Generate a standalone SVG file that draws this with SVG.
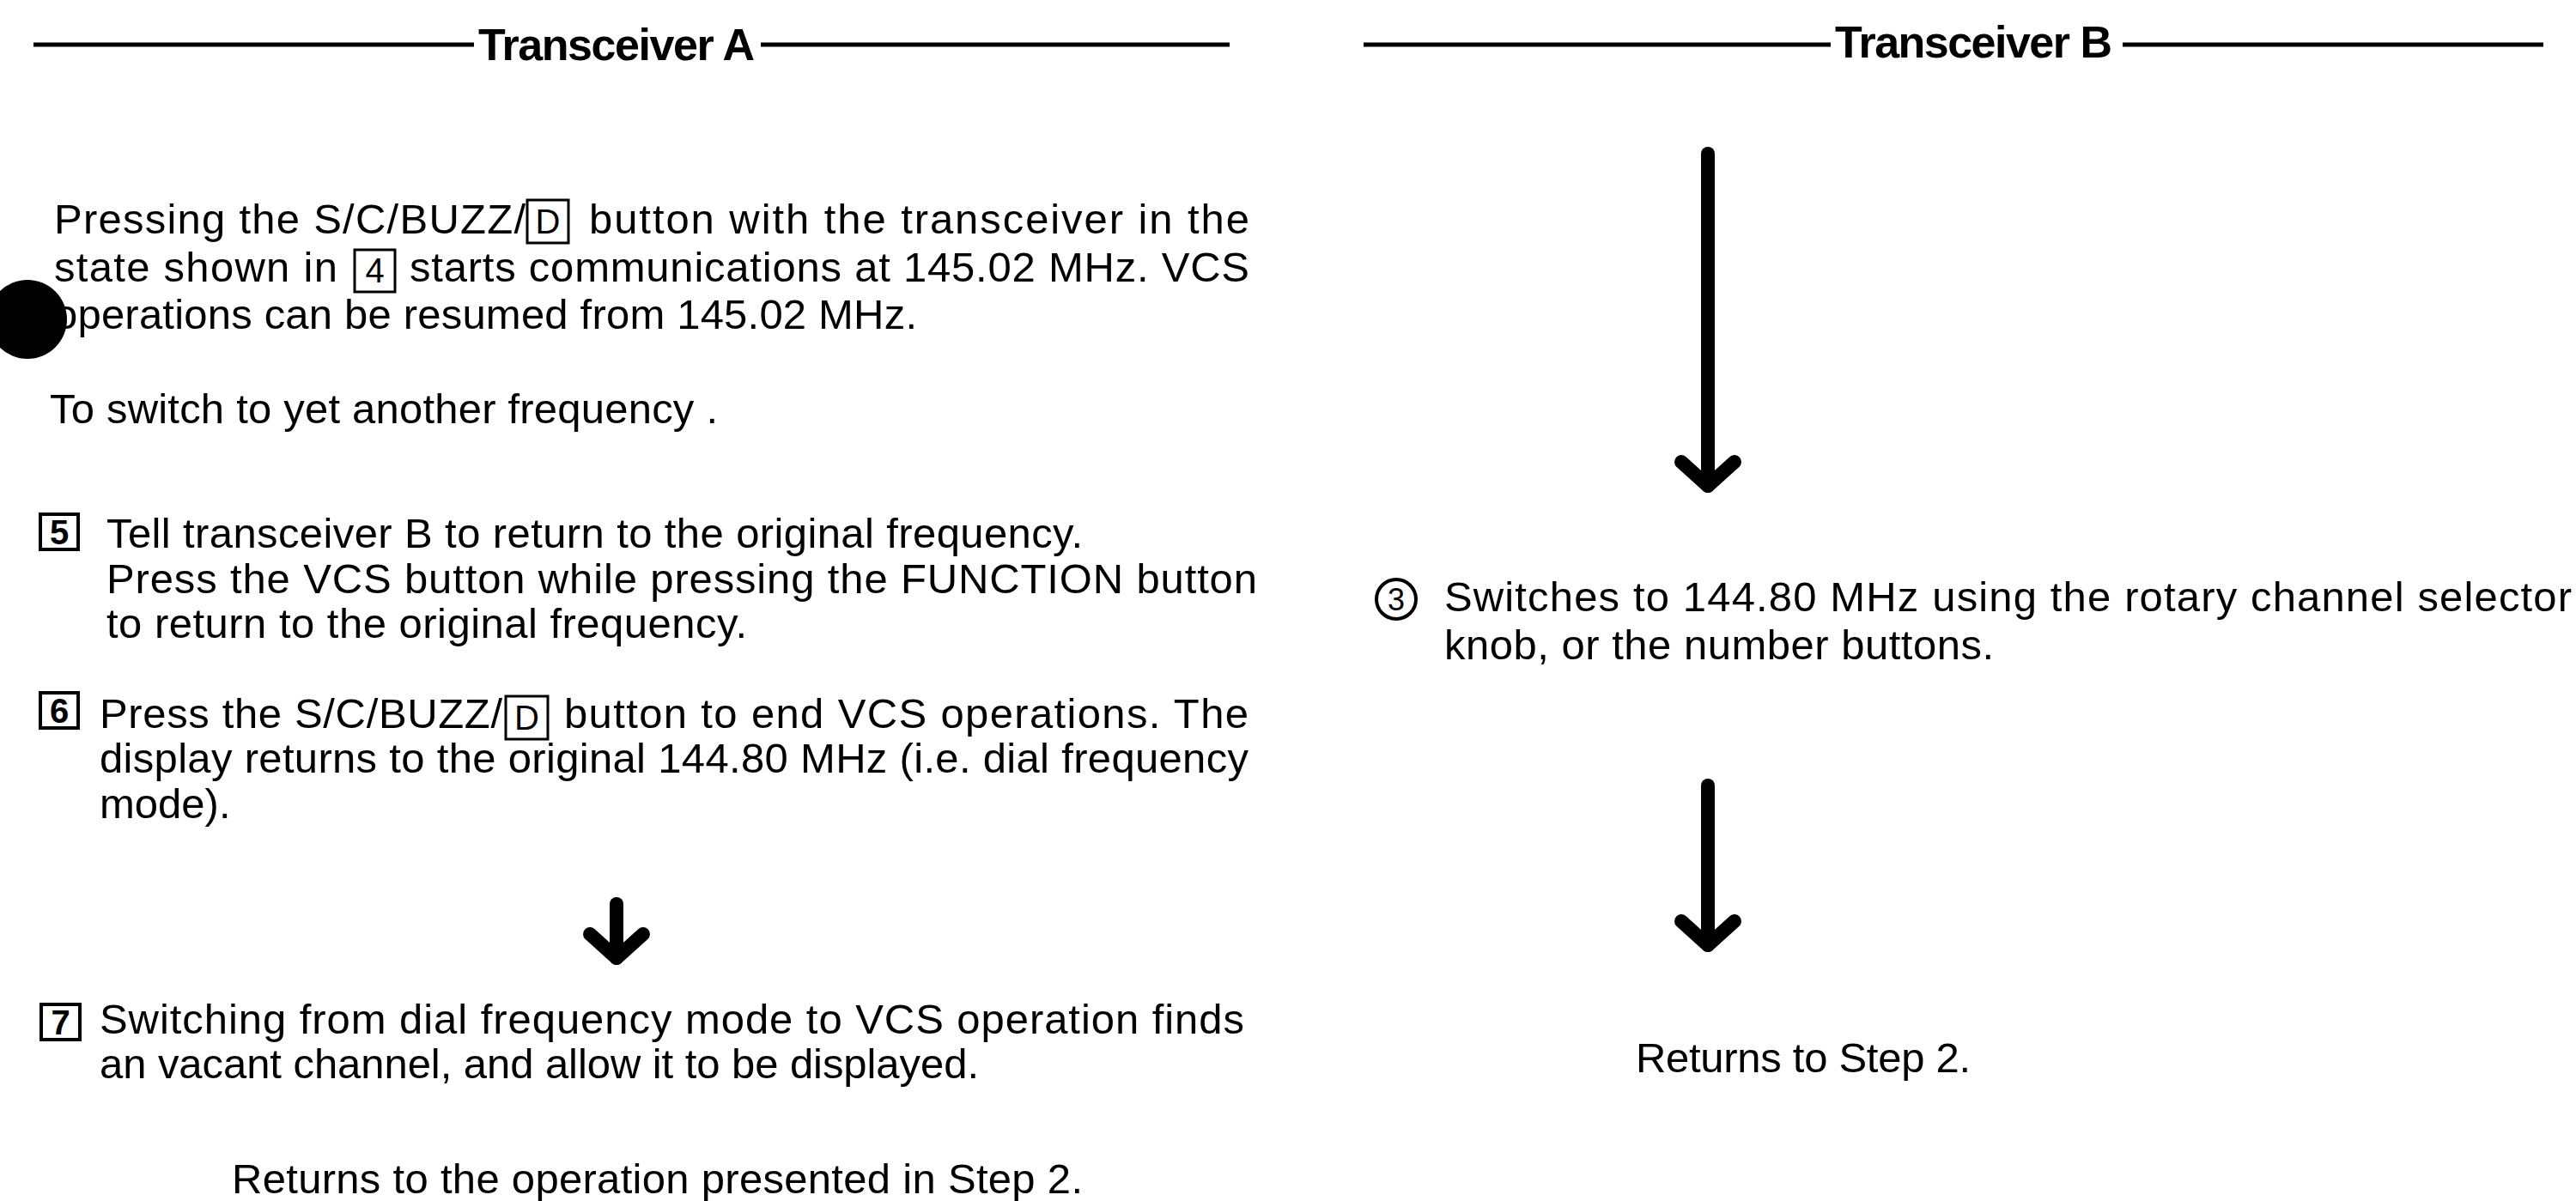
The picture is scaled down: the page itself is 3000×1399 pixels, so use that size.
<svg xmlns="http://www.w3.org/2000/svg" xmlns:xlink="http://www.w3.org/1999/xlink" width="3000" height="1399" viewBox="0 0 3000 1399">
<style>
.t { font-family: "Liberation Sans", Arial, Helvetica, sans-serif; font-size: 49px; fill: #000; }
.h { font-family: "Liberation Sans", Arial, Helvetica, sans-serif; font-size: 52px; font-weight: bold; fill: #000; }
.rule { stroke: #000; stroke-width: 5; fill: none; }
.box { fill: none; stroke: #000; stroke-width: 3; }
.nbox { fill: none; stroke: #000; stroke-width: 4; }
.bn { font-family: "Liberation Sans", Arial, sans-serif; font-size: 40px; font-weight: bold; fill: #000; text-anchor: middle; }
.bl { font-family: "Liberation Sans", Arial, sans-serif; font-size: 40px; fill: #000; text-anchor: middle; }
.arr { stroke: #000; stroke-width: 16; fill: none; stroke-linecap: round; stroke-linejoin: round; }
</style>
<defs>
<path id="head" class="arr" d="M -31 -37 L 0 -9 L 31 -37"/>
</defs>
<rect width="3000" height="1399" fill="#fff"/>

<g id="header-a">
<line class="rule" x1="39" y1="52" x2="552" y2="52"/>
<text class="h" x="557" y="70" textLength="322">Transceiver A</text>
<line class="rule" x1="886" y1="52" x2="1432" y2="52"/>
</g>

<g id="header-b">
<line class="rule" x1="1588" y1="52" x2="2132" y2="52"/>
<text class="h" x="2137" y="67" textLength="323">Transceiver B</text>
<line class="rule" x1="2472" y1="52" x2="2962" y2="52"/>
</g>

<g id="para-intro">
<text class="t" x="63" y="272" textLength="549">Pressing the S/C/BUZZ/</text>
<rect class="box" x="614" y="233" width="48" height="50"/>
<text class="bl" x="638" y="272">D</text>
<text class="t" x="686" y="272" textLength="769">button with the transceiver in the</text>
<text class="t" x="63" y="328" textLength="330">state shown in</text>
<rect class="box" x="413" y="291" width="47" height="49"/>
<text class="bl" x="436.5" y="329">4</text>
<text class="t" x="477" y="328" textLength="978">starts communications at 145.02 MHz. VCS</text>
<text class="t" x="63" y="383" textLength="1005">operations can be resumed from 145.02 MHz.</text>
<circle cx="32" cy="372" r="46" fill="#000"/>
</g>

<g id="para-switch">
<text class="t" x="58" y="493" textLength="778">To switch to yet another frequency .</text>
</g>

<g id="step-5">
<rect class="nbox" x="47" y="599" width="44" height="41"/>
<text class="bn" x="69" y="634">5</text>
<text class="t" x="124" y="638" textLength="1137">Tell transceiver B to return to the original frequency.</text>
<text class="t" x="124" y="691" textLength="1340">Press the VCS button while pressing the FUNCTION button</text>
<text class="t" x="124" y="743" textLength="746">to return to the original frequency.</text>
</g>

<g id="step-6">
<rect class="nbox" x="47" y="807" width="44" height="41"/>
<text class="bn" x="69" y="842">6</text>
<text class="t" x="116" y="848" textLength="469">Press the S/C/BUZZ/</text>
<rect class="box" x="589" y="811" width="49" height="50"/>
<text class="bl" x="613.5" y="850">D</text>
<text class="t" x="657" y="848" textLength="797">button to end VCS operations. The</text>
<text class="t" x="116" y="900" textLength="1338">display returns to the original 144.80 MHz (i.e. dial frequency</text>
<text class="t" x="116" y="953">mode).</text>
</g>

<g id="step-7">
<rect class="nbox" x="48" y="1170" width="45" height="41"/>
<text class="bn" x="70.5" y="1205">7</text>
<text class="t" x="116" y="1204" textLength="1333">Switching from dial frequency mode to VCS operation finds</text>
<text class="t" x="116" y="1256" textLength="1024">an vacant channel, and allow it to be displayed.</text>
</g>

<g id="return-a">
<text class="t" x="270" y="1390" textLength="991">Returns to the operation presented in Step 2.</text>
</g>

<g id="step-3">
<circle cx="1626" cy="698" r="23" fill="none" stroke="#000" stroke-width="4"/>
<text class="bl" x="1626" y="711" style="font-size:36px">3</text>
<text class="t" x="1682" y="712" textLength="1313">Switches to 144.80 MHz using the rotary channel selector</text>
<text class="t" x="1682" y="768" textLength="640">knob, or the number buttons.</text>
</g>

<g id="return-b">
<text class="t" x="1905" y="1249" textLength="390">Returns to Step 2.</text>
</g>

<g id="connectors">
<line class="arr" x1="1989" y1="179" x2="1989" y2="566"/>
<use xlink:href="#head" x="1989" y="575"/>
<line class="arr" x1="1989" y1="915" x2="1989" y2="1101"/>
<use xlink:href="#head" x="1989" y="1110"/>
<line class="arr" x1="718" y1="1053" x2="718" y2="1116"/>
<use xlink:href="#head" x="718" y="1125"/>
</g>
</svg>
